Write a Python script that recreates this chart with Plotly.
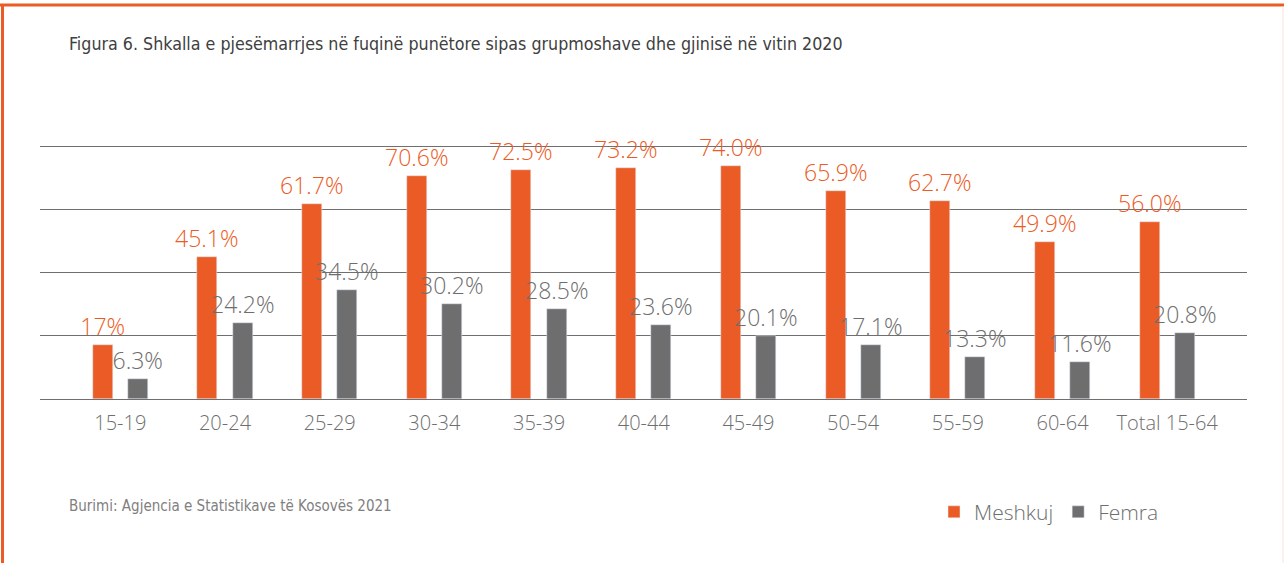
import plotly.graph_objects as go

categories = ["15-19", "20-24", "25-29", "30-34", "35-39", "40-44", "45-49",
              "50-54", "55-59", "60-64", "Total 15-64"]
meshkuj = [17.0, 45.1, 61.7, 70.6, 72.5, 73.2, 74.0, 65.9, 62.7, 49.9, 56.0]
femra = [6.3, 24.2, 34.5, 30.2, 28.5, 23.6, 20.1, 17.1, 13.3, 11.6, 20.8]
meshkuj_labels = ["17%", "45.1%", "61.7%", "70.6%", "72.5%", "73.2%", "74.0%",
                  "65.9%", "62.7%", "49.9%", "56.0%"]
femra_labels = [f"{v:.1f}%" for v in femra]
grid_values = [0, 20, 40, 60, 80]

ORANGE = "#EB5B25"
GRAY = "#6E6E6E"
W, H = 1284, 563
L, R, B = 40, 1247, 399
YMAX = 84.0
T = B - YMAX * 3.15  # keep 80 gridline at y=147 px

def px(x):
    return (x - L) / (R - L)

def py(y):
    return (B - y) / (B - T)

fig = go.Figure()
fig.add_trace(go.Bar(
    x=categories, y=meshkuj, name="Meshkuj", marker_color=ORANGE,
    width=0.191, offset=-0.168 - 0.0955,
    text=meshkuj_labels, textposition="outside", cliponaxis=False, constraintext="none",
    textfont=dict(color=ORANGE, size=23, family="Open Sans", weight=300),
))
fig.add_trace(go.Bar(
    x=categories, y=femra, name="Femra", marker_color=GRAY,
    width=0.191, offset=0.168 - 0.0955,
    text=femra_labels, textposition="outside", cliponaxis=False, constraintext="none",
    textfont=dict(color=GRAY, size=23, family="Open Sans", weight=300),
))

shapes = [
    dict(type="line", xref="paper", yref="paper", x0=px(0), x1=px(W), y0=py(5.5), y1=py(5.5),
         line=dict(color=ORANGE, width=3)),
    dict(type="line", xref="paper", yref="paper", x0=px(2.5), x1=px(2.5), y0=py(5), y1=py(H + 5),
         line=dict(color=ORANGE, width=3)),
    dict(type="line", xref="paper", yref="paper", x0=px(1283), x1=px(1283), y0=py(7), y1=py(H + 5),
         line=dict(color="#F6E2DA", width=1)),
]

annotations = [
    dict(text="Figura 6. Shkalla e pjesëmarrjes në fuqinë punëtore sipas grupmoshave dhe gjinisë në vitin 2020",
         xref="paper", yref="paper", x=px(67), y=py(45), xanchor="left", yanchor="middle",
         showarrow=False, font=dict(family="Liberation Sans Narrow, DejaVu Sans Condensed", size=17.7, color="#404040")),
    dict(text="Burimi: Agjencia e Statistikave të Kosovës 2021",
         xref="paper", yref="paper", x=px(67), y=py(506), xanchor="left", yanchor="middle",
         showarrow=False, font=dict(family="Liberation Sans Narrow, DejaVu Sans Condensed", size=15, color="#808080")),
]

fig.update_layout(
    width=W, height=H,
    margin=dict(l=L, r=W - R, t=T, b=H - B, pad=0),
    paper_bgcolor="white", plot_bgcolor="white",
    barmode="overlay", bargap=0,
    showlegend=True,
    legend=dict(orientation="h", x=px(934), y=py(512), xanchor="left", yanchor="middle",
                font=dict(family="Open Sans", size=21, color=GRAY, weight=300),
                itemwidth=30, traceorder="normal", bgcolor="rgba(0,0,0,0)"),
    xaxis=dict(range=[-0.767, 10.762], showgrid=False, showline=False, zeroline=False,
               ticks="", tickfont=dict(family="Open Sans", size=20, color=GRAY, weight=300),
               ticklabelstandoff=10),
    yaxis=dict(range=[0, YMAX], tickvals=grid_values, showticklabels=False, showgrid=True,
               gridcolor="#6F6F6F", gridwidth=1.3, zeroline=True, zerolinecolor="#6F6F6F",
               zerolinewidth=1.3, showline=False, ticks=""),
    shapes=shapes, annotations=annotations,
)

fig.write_html("out.html", config={"displayModeBar": False},
               post_script="document.body.style.margin='0';document.body.style.overflow='hidden';")
